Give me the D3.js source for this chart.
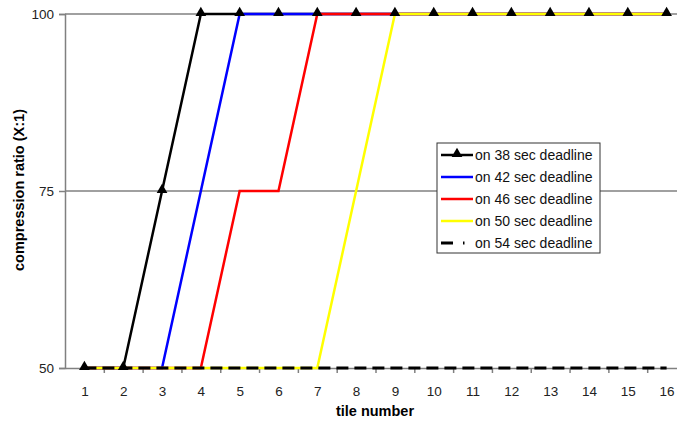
<!DOCTYPE html>
<html><head><meta charset="utf-8">
<script src="https://cdn.jsdelivr.net/npm/d3@7"></script>
<style>body{margin:0;background:#fff}svg{display:block}text{font-family:"Liberation Sans",Arial,sans-serif}</style>
</head><body>
<svg id="c" width="677" height="425"></svg>
<script>
const tiles = [1,2,3,4,5,6,7,8,9,10,11,12,13,14,15,16];
const seriesNames = ["on 38 sec deadline","on 42 sec deadline","on 46 sec deadline","on 50 sec deadline","on 54 sec deadline"];
const s38 = [50,50,75,100,100,100,100,100,100,100,100,100,100,100,100,100];
const s42 = [50,50,50,75,100,100,100,100,100,100,100,100,100,100,100,100];
const s46 = [50,50,50,50,75,75,100,100,100,100,100,100,100,100,100,100];
const s50 = [50,50,50,50,50,50,50,75,100,100,100,100,100,100,100,100];
const s54 = [50,50,50,50,50,50,50,50,50,50,50,50,50,50,50,50];
const yTicks = [50,75,100];
const colors = ["#000000","#0000ff","#ff0000","#ffff00","#000000"];
const allSeries = [s38,s42,s46,s50,s54];

const svg = d3.select("#c");
const x = d3.scaleLinear().domain([0.5,16.5]).range([65,686]);
const y = d3.scaleLinear().domain([50,100]).range([368,14]);

// gridlines
svg.append("g").selectAll("line").data([75,100]).join("line")
  .attr("x1",65).attr("x2",686).attr("y1",d=>y(d)).attr("y2",d=>y(d))
  .attr("stroke","#808080").attr("stroke-width",1.5);

// y axis
const ya = svg.append("g").attr("transform","translate(65,0)")
  .call(d3.axisLeft(y).tickValues(yTicks).tickSize(6).tickPadding(5));
ya.select(".domain").attr("stroke","#808080").attr("stroke-width",1.5);
ya.selectAll(".tick line").attr("stroke","#808080").attr("stroke-width",1.5);
ya.selectAll("text").attr("font-size",13.5).attr("fill","#222");

// x axis
const xa = svg.append("g").attr("transform","translate(0,368)")
  .call(d3.axisBottom(x).tickValues(tiles).tickSize(0).tickPadding(18).tickSizeOuter(0));
xa.select(".domain").attr("stroke","#808080").attr("stroke-width",1.5);
xa.selectAll("text").attr("font-size",13.5).attr("fill","#222");
const xb = svg.append("g").attr("transform","translate(0,368)")
  .call(d3.axisBottom(x).tickValues(tiles.slice(0,15).map(t=>t+0.5)).tickSize(5).tickFormat("").tickSizeOuter(0));
xb.select(".domain").remove();
xb.selectAll(".tick line").attr("stroke","#808080").attr("stroke-width",1.5);

// lines
const line = d3.line().x((d,i)=>x(tiles[i])).y(d=>y(d));
allSeries.forEach((s,k)=>{
  svg.append("path").datum(s).attr("d",line).attr("fill","none")
    .attr("stroke",colors[k]).attr("stroke-width",k===4?3:2.5)
    .attr("stroke-dasharray",k===4?"12,6":null);
});

// markers for 38 sec
const tri = d3.symbol().type(d3.symbolTriangle).size(50);
svg.append("g").selectAll("path").data(s38).join("path")
  .attr("d",tri).attr("transform",(d,i)=>`translate(${x(tiles[i])},${y(d)-1})`).attr("fill","#000");

// axis titles
svg.append("text").attr("x",375).attr("y",416).attr("text-anchor","middle")
  .attr("font-size",14.5).attr("font-weight","bold").text("tile number");
svg.append("text").attr("transform","translate(24,190) rotate(-90)").attr("text-anchor","middle")
  .attr("font-size",14.5).attr("font-weight","bold").text("compression ratio (X:1)");

// legend
const lg = svg.append("g").attr("transform","translate(437,143)");
lg.append("rect").attr("width",163).attr("height",110).attr("fill","#fff").attr("stroke","#333").attr("stroke-width",1);
seriesNames.forEach((n,k)=>{
  const yy = 12 + k*22;
  lg.append("line").attr("x1",4).attr("x2",36).attr("y1",yy).attr("y2",yy)
    .attr("stroke",colors[k]).attr("stroke-width",k===4?3:2.5)
    .attr("stroke-dasharray",k===4?"12,10,1.5,20":null);
  if(k===0) lg.append("path").attr("d",tri).attr("transform",`translate(20,${yy-1})`).attr("fill","#000");
  lg.append("text").attr("x",38).attr("y",yy+5).attr("font-size",14).attr("fill","#111").text(n);
});
</script>
</body></html>
